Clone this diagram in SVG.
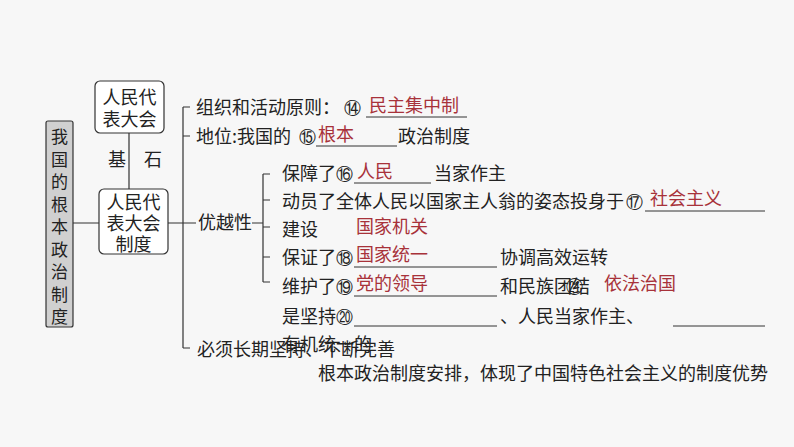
<svg xmlns="http://www.w3.org/2000/svg" width="794" height="447" viewBox="0 0 794 447">
<style>
text{font-family:"Noto Sans CJK SC","Noto Sans",sans-serif;font-size:18px;fill:#222}
.r{fill:#a8323a}
.c{font-family:"DejaVu Sans",sans-serif;font-size:17px}
.l{stroke:#333;stroke-width:1.2;fill:none}
.u{stroke:#333;stroke-width:1;fill:none}
.b{fill:#fff;stroke:#333;stroke-width:1.2}
.v{font-size:17px}
</style>
<rect width="794" height="447" fill="#f7f7f7"/>
<g id="root"><rect x="46" y="121" width="27" height="206" rx="2" fill="#d0d0d0" stroke="#333" stroke-width="1.2"/>
<text class="v" x="59.5" y="143" text-anchor="middle">我</text><text class="v" x="59.5" y="165.5" text-anchor="middle">国</text><text class="v" x="59.5" y="188" text-anchor="middle">的</text><text class="v" x="59.5" y="210.5" text-anchor="middle">根</text><text class="v" x="59.5" y="233" text-anchor="middle">本</text><text class="v" x="59.5" y="255.5" text-anchor="middle">政</text><text class="v" x="59.5" y="278" text-anchor="middle">治</text><text class="v" x="59.5" y="300.5" text-anchor="middle">制</text><text class="v" x="59.5" y="323" text-anchor="middle">度</text></g>
<g id="n1"><rect class="b" x="95" y="81" width="69" height="52" rx="5"/><text x="129.5" y="104" text-anchor="middle">人民代</text><text x="129.5" y="126" text-anchor="middle">表大会</text></g>
<g id="n2"><rect class="b" x="99" y="189" width="69" height="65" rx="5"/><text x="133.5" y="209" text-anchor="middle">人民代</text><text x="133.5" y="230" text-anchor="middle">表大会</text><text x="133.5" y="251" text-anchor="middle">制度</text></g>
<g id="connectors">
<path class="l" d="M129 133V189M73 223H99M168 223H183M183 107V348M183 107H190M183 136H190M183 223H196M183 348H190M252 223H263M263 174V282M263 174H270M263 200H270M263 227H270M263 257H270M263 282H270"/>
</g>
<g id="labels">
<text x="108" y="166">基</text><text x="144" y="166">石</text>
<text x="196" y="114">组织和活动原则：</text><text class="c" x="344" y="114">⑭</text><text class="r" x="369" y="112">民主集中制</text><path class="u" d="M366 117H467"/>
<text x="196" y="143">地位:我国的</text><text class="c" x="299" y="143">⑮</text><text class="r" x="318" y="141">根本</text><path class="u" d="M316 146H397"/><text x="398" y="143">政治制度</text>
<text x="198" y="229">优越性</text>
<text x="282" y="180">保障了</text><text class="c" x="336" y="180">⑯</text><text class="r" x="357" y="178">人民</text><path class="u" d="M354 183H431"/><text x="434" y="180">当家作主</text>
<text x="282" y="208" textLength="342" lengthAdjust="spacing">动员了全体人民以国家主人翁的姿态投身于</text><text class="c" x="626" y="208">⑰</text><text class="r" x="650" y="205">社会主义</text><path class="u" d="M645 211H765"/>
<text x="282" y="236">建设</text><text class="r" x="356" y="233">国家机关</text>
<text x="282" y="264">保证了</text><text class="c" x="336" y="264">⑱</text><text class="r" x="356" y="261">国家统一</text><path class="u" d="M354 267H497"/><text x="500" y="264">协调高效运转</text>
<text x="282" y="293">维护了</text><text class="c" x="336" y="293">⑲</text><text class="r" x="356" y="290">党的领导</text><path class="u" d="M354 296H497"/><text x="500" y="293">和民族团结</text><text class="c" x="566" y="293">㉑</text><text class="r" x="604" y="290">依法治国</text>
<text x="282" y="323">是坚持</text><text class="c" x="336" y="323">⑳</text><path class="u" d="M354 326H497"/><text x="500" y="323">、人民当家作主、</text><path class="u" d="M673 326H765"/>
<text x="282" y="351">有机统一的</text>
<text x="197" y="356">必须长期坚持、不断完善</text>
<text x="318" y="380">根本政治制度安排，体现了中国特色社会主义的制度优势</text>
</g>
</svg>
